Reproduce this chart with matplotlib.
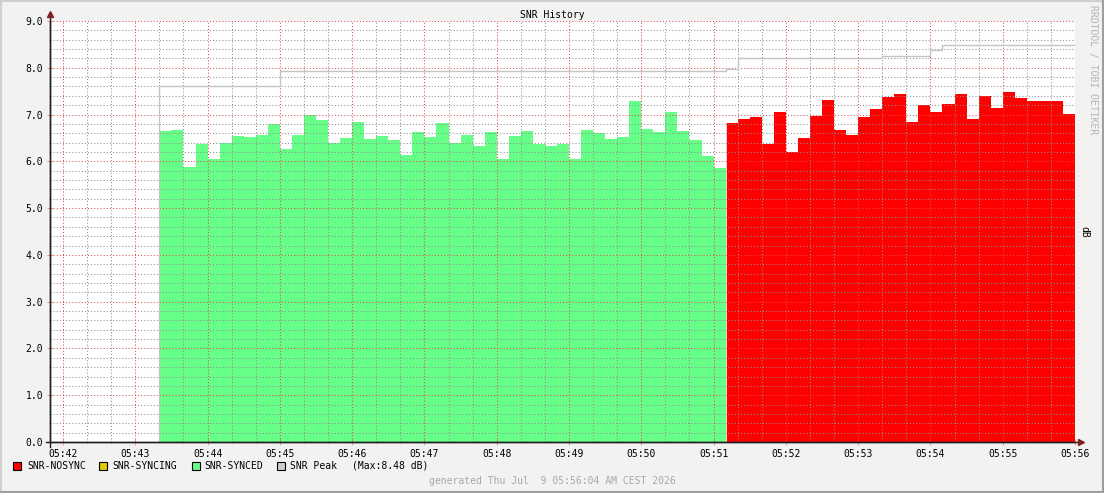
import numpy as np
import matplotlib.pyplot as plt
from matplotlib.lines import Line2D
from matplotlib.patches import Rectangle

# seconds after 05:42:00, one sample every 10 s
step = 10
green_start = 80      # 05:43:20
red_start = 550       # 05:51:10

green_vals = [6.64, 6.68, 5.88, 6.36, 6.04, 6.40, 6.55, 6.51, 6.57, 6.79, 6.26, 6.57, 6.99,
              6.89, 6.39, 6.49, 6.85, 6.47, 6.55, 6.45, 6.13, 6.62, 6.51, 6.81, 6.40, 6.57,
              6.32, 6.62, 6.05, 6.55, 6.64, 6.36, 6.32, 6.36, 6.06, 6.66, 6.60, 6.47, 6.51,
              7.28, 6.70, 6.62, 7.06, 6.64, 6.45, 6.11, 5.85]
red_vals = [6.81, 6.91, 6.94, 6.38, 7.06, 6.19, 6.49, 6.96, 7.32, 6.66,
            6.57, 6.94, 7.11, 7.38, 7.45, 6.85, 7.21, 7.06, 7.23, 7.45,
            6.91, 7.40, 7.15, 7.49, 7.36, 7.30, 7.28, 7.28, 7.02]

peak_edges = [80, 180, 550, 560, 680, 720, 730, 840]
peak_vals = [7.62, 7.94, 7.97, 8.21, 8.26, 8.37, 8.48]

tick_labels = ["05:42", "05:43", "05:44", "05:45", "05:46", "05:47", "05:48", "05:49",
               "05:50", "05:51", "05:52", "05:53", "05:54", "05:55", "05:56"]
y_labels = ["0.0", "1.0", "2.0", "3.0", "4.0", "5.0", "6.0", "7.0", "8.0", "9.0"]

legend_names = ["SNR-NOSYNC", "SNR-SYNCING", "SNR-SYNCED", "SNR Peak"]
legend_colors = ["#FF0000", "#DDCC00", "#66FF88", "#CCCCCC"]

W, H = 1104, 493
MONO = "DejaVu Sans Mono"
GRID = (0.56, 0.56, 0.56, 0.45)
MGRID = (0.87, 0.31, 0.31, 0.5)
AXIS = "#1F1F1F"
ARROW = "#7F1F1F"


def fx(px):
    return px / W


def fy(py):
    return 1 - py / H


fig = plt.figure(figsize=(W / 100, H / 100), dpi=100, facecolor="#F2F2F2")
ax = fig.add_axes([fx(50), fy(442), (1075 - 50) / W, (442 - 21) / H])
ax.set_xlim(-10.8, 840)
ax.set_ylim(0, 9)

# areas
green_edges = green_start + step * np.arange(len(green_vals) + 1)
red_edges = red_start + step * np.arange(len(red_vals) + 1)
ax.stairs(green_vals, green_edges, fill=True, color="#66FF88", lw=0, zorder=1)
ax.stairs(red_vals, red_edges, fill=True, color="#FF0000", lw=0, zorder=1)
ax.axvline(red_start, color="white", lw=0.6, zorder=1.5)

# peak line
ax.stairs(peak_vals, peak_edges, baseline=None, color="#C4C4C4", lw=1, zorder=3)
ax.vlines(peak_edges[0], 0, peak_vals[0], color="#C4C4C4", lw=1, zorder=3)

# grid
ax.set_xticks(60 * np.arange(len(tick_labels)))
ax.set_xticklabels(tick_labels)
ax.set_xticks(np.arange(0, 841, 20), minor=True)
ax.set_yticks(np.arange(len(y_labels)))
ax.set_yticklabels(y_labels)
ax.set_yticks(np.arange(0, 9.01, 0.2), minor=True)
ax.grid(which="major", color=MGRID, linestyle=(0, (1, 2)), lw=0.75)
ax.grid(which="minor", color=GRID, linestyle=(0, (1, 2)), lw=0.75)
ax.set_axisbelow(False)

ax.tick_params(which="major", length=4, direction="inout", color=MGRID,
               labelsize=7, pad=3)
ax.tick_params(which="minor", length=2, direction="inout", color=GRID)
for lab in ax.get_xticklabels() + ax.get_yticklabels():
    lab.set_family(MONO)

for s in ["top", "right"]:
    ax.spines[s].set_visible(False)
for s in ["left", "bottom"]:
    ax.spines[s].set_color(AXIS)
    ax.spines[s].set_linewidth(1)
    ax.spines[s].set_zorder(4)

# axis extensions and arrows
ax.plot([-10.8, -10.8], [-0.1, 9.13], color=AXIS, lw=1, clip_on=False, zorder=4)
ax.plot([-14, 844], [0, 0], color=AXIS, lw=1, clip_on=False, zorder=4)
ax.plot([-10.8], [9.15], marker="^", ms=4, color=ARROW, clip_on=False, zorder=5)
ax.plot([845], [0], marker=">", ms=4, color=ARROW, clip_on=False, zorder=5)

# texts
fig.text(fx(552), fy(15), "SNR History", ha="center", va="center", size=7, family=MONO)
fig.text(fx(1084), fy(232), "dB", ha="center", va="center", size=7, family=MONO,
         rotation=270)
fig.text(fx(1093), fy(70), "RRDTOOL / TOBI OETIKER", ha="center", va="center", size=7,
         family=MONO, rotation=270, color="#B5B5B5")
fig.text(fx(552), fy(481), "generated Thu Jul  9 05:56:04 AM CEST 2026", ha="center",
         va="center", size=7, family=MONO, color="#A8A8A8")

# legend
box_x = [13, 99, 192, 277]
text_x = [27, 112, 204, 290]
for name, col, bx, tx in zip(legend_names, legend_colors, box_x, text_x):
    fig.add_artist(Rectangle((fx(bx), fy(470)), 8 / W, 8 / H, transform=fig.transFigure,
                             facecolor=col, edgecolor="black", lw=0.8))
    fig.text(fx(tx), fy(466), name, ha="left", va="center", size=7, family=MONO)
fig.text(fx(352), fy(466), "(Max:%.2f dB)" % max(peak_vals), ha="left", va="center",
         size=7, family=MONO)

# frame
fig.add_artist(Line2D([0, 1], [fy(0.5), fy(0.5)], color="#CFCFCF", lw=1.5))
fig.add_artist(Line2D([fx(0.5), fx(0.5)], [0, 1], color="#CFCFCF", lw=1.5))
fig.add_artist(Line2D([0, 1], [fy(H - 1), fy(H - 1)], color="#9E9E9E", lw=1.5))
fig.add_artist(Line2D([fx(W - 1), fx(W - 1)], [0, 1], color="#9E9E9E", lw=1.5))

fig.savefig("out.png", dpi=100, facecolor=fig.get_facecolor())
